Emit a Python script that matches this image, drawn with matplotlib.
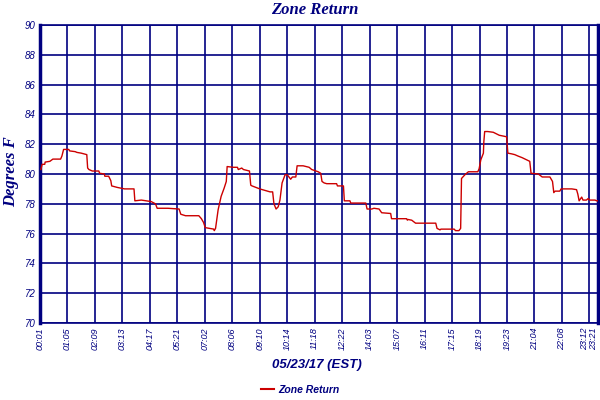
import matplotlib
matplotlib.use("Agg")
import matplotlib.pyplot as plt
from matplotlib.lines import Line2D

# sample index (one sample per minute of logged data) and temperature in deg F
idx = [2, 5, 11, 12, 23, 30, 48, 51, 55, 67, 69, 82, 86, 96, 109, 111, 114, 122,
       137, 139, 150, 151, 160, 165, 167, 180, 197, 219, 221, 236, 259, 269, 273,
       298, 324, 328, 339, 370, 376, 381, 385, 395, 405, 406, 409, 415, 422, 429,
       434, 436, 450, 460, 462, 470, 474, 488, 491, 494, 503, 512, 524, 536, 542,
       545, 550, 555, 559, 564, 571, 576, 584, 588, 596, 599, 613, 627, 633, 638,
       648, 654, 657, 662, 668, 691, 693, 707, 709, 722, 724, 759, 762, 773, 778,
       790, 796, 817, 819, 854, 856, 857, 866, 875, 922, 925, 932, 934, 965, 968,
       976, 980, 981, 982, 990, 998, 1020, 1023, 1027, 1033, 1034, 1036, 1043,
       1056, 1070, 1087, 1090, 1099, 1106, 1114, 1123, 1141, 1144, 1161, 1170,
       1188, 1194, 1197, 1200, 1211, 1214, 1239, 1250, 1253, 1256, 1262, 1265,
       1273, 1277, 1281, 1293, 1297, 1300]
temp = [80.3, 80.65, 80.65, 80.8, 80.85, 81.0, 81.0, 81.2, 81.65, 81.65, 81.55,
        81.5, 81.45, 81.4, 81.3, 80.4, 80.3, 80.2, 80.2, 80.05, 80.0, 79.85, 79.85,
        79.55, 79.2, 79.1, 79.0, 79.0, 78.2, 78.25, 78.15, 78.0, 77.7, 77.7, 77.65,
        77.3, 77.2, 77.2, 77.0, 76.75, 76.4, 76.35, 76.3, 76.2, 76.35, 77.6, 78.5,
        79.05, 79.5, 80.5, 80.45, 80.45, 80.3, 80.4, 80.3, 80.2, 79.25, 79.2, 79.1,
        79.0, 78.9, 78.8, 78.8, 78.0, 77.65, 77.8, 78.25, 79.4, 79.95, 79.95, 79.65,
        79.8, 79.8, 80.55, 80.55, 80.45, 80.3, 80.25, 80.15, 80.05, 79.5, 79.4,
        79.35, 79.35, 79.2, 79.2, 78.2, 78.2, 78.05, 78.05, 77.65, 77.65, 77.7,
        77.65, 77.4, 77.35, 77.0, 77.0, 76.9, 76.95, 76.9, 76.7, 76.7, 76.35, 76.25,
        76.3, 76.3, 76.2, 76.2, 76.35, 78.0, 79.7, 79.95, 80.15, 80.15, 80.35, 80.95,
        81.4, 82.15, 82.85, 82.85, 82.8, 82.6, 82.5, 81.4, 81.35, 81.3, 81.2, 81.1,
        80.85, 80.05, 80.0, 79.8, 79.8, 79.5, 78.75, 78.85, 78.85, 79.0, 79.0, 78.95,
        78.65, 78.2, 78.45, 78.25, 78.25, 78.35, 78.25, 78.25, 78.2, 78.2]

tick_pos = [0, 64, 128, 192, 256, 320, 384, 448, 512, 576, 640, 704, 768, 832,
            896, 960, 1024, 1088, 1152, 1216, 1280, 1300]
tick_lbl = ["00:01", "01:05", "02:09", "03:13", "04:17", "05:21", "07:02", "08:06",
            "09:10", "10:14", "11:18", "12:22", "14:03", "15:07", "16:11", "17:15",
            "18:19", "19:23", "21:04", "22:08", "23:12", "23:21"]
y_ticks = [70, 72, 74, 76, 78, 80, 82, 84, 86, 88, 90]

navy = "#000080"
red = "#CC0000"

fig = plt.figure(figsize=(6, 4), dpi=100)
ax = fig.add_axes([40 / 600, 77 / 400, 558 / 600, 298 / 400])

ax.plot(idx, temp, color=red, lw=1.0, zorder=3)

ax.set_xlim(0, 1300)
ax.set_ylim(70, 90)
ax.set_xticks(tick_pos)
ax.set_xticklabels(tick_lbl, rotation=90, fontsize=6.5, style="italic",
                   color=navy, family="Liberation Sans")
# the last two labels sit close together at the right edge
xl = ax.get_xticklabels()
xl[-2].set_horizontalalignment("right")
xl[-1].set_horizontalalignment("right")
ax.set_yticks(y_ticks)
ax.set_yticklabels([str(v) for v in y_ticks], fontsize=7, style="italic",
                   color=navy, family="Liberation Sans")
ax.tick_params(length=0, pad=3)
ax.grid(True, color=navy, lw=1.2)
ax.set_axisbelow(True)

for side in ["top", "bottom"]:
    ax.spines[side].set_color(navy)
    ax.spines[side].set_linewidth(1.2)
for side in ["left", "right"]:
    ax.spines[side].set_color(navy)
    ax.spines[side].set_linewidth(2.5)

fig.text(0.525, 0.975, "Zone Return", ha="center", va="center", fontsize=12,
         family="Liberation Serif", style="italic", weight="bold", color=navy)
fig.text(0.018, 0.57, "Degrees F", ha="center", va="center", rotation=90,
         fontsize=12, family="Liberation Serif", style="italic", weight="bold",
         color=navy)
fig.text(0.528, 0.088, "05/23/17 (EST)", ha="center", va="center", fontsize=9.5,
         family="Liberation Sans", style="italic", weight="bold", color=navy)

handle = Line2D([], [], color=red, lw=1.5)
leg = fig.legend([handle], ["Zone Return"], loc="center", bbox_to_anchor=(0.5, 0.025),
                 frameon=False, handlelength=1.3, handletextpad=0.4,
                 prop={"family": "Liberation Sans", "style": "italic",
                       "weight": "bold", "size": 7.5})
for t in leg.get_texts():
    t.set_color(navy)

fig.savefig("out.png", dpi=100, facecolor="white")
